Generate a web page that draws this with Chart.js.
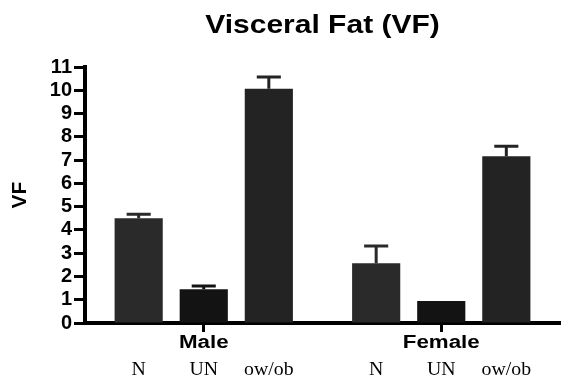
<!DOCTYPE html>
<html>
<head>
<meta charset="utf-8">
<script src="https://cdn.jsdelivr.net/npm/chart.js@4"></script>
<style>
  body { margin: 0; background: #fff; }
</style>
</head>
<body>
<canvas id="myChart" width="575" height="384"></canvas>
<script>
const groups = ["Male", "Female"];
const subLabels = ["N", "UN", "ow/ob"];
const nValues = [4.5, 2.57];
const unValues = [1.45, 0.95];
const owobValues = [10.07, 7.17];
const nErr = [0.17, 0.74];
const unErr = [0.14, 0];
const owobErr = [0.5, 0.43];
const yMax = 11;

// error bars + texts the old graph program stretched sideways
const extras = {
	id: "extras",
	afterDatasetsDraw(chart) {
		const ctx = chart.ctx;
		const y = chart.scales.y;
		chart.data.datasets.forEach((ds, i) => {
			const meta = chart.getDatasetMeta(i);
			meta.data.forEach((bar, j) => {
				const err = ds.errors[j];
				if (!err) return;
				const top = y.getPixelForValue(ds.data[j] + err);
				ctx.save();
				ctx.strokeStyle = ds.backgroundColor;
				ctx.lineWidth = 3;
				ctx.beginPath();
				ctx.moveTo(bar.x, bar.y);
				ctx.lineTo(bar.x, top);
				ctx.moveTo(bar.x - bar.width / 4, top);
				ctx.lineTo(bar.x + bar.width / 4, top);
				ctx.stroke();
				ctx.restore();
			});
		});
	},
	afterDraw(chart) {
		const ctx = chart.ctx;
		const area = chart.chartArea;
		const x = chart.scales.x;
		const txt = (s, cx, cy, font, sx) => {
			ctx.save();
			ctx.font = font;
			ctx.fillStyle = "#000";
			ctx.textAlign = "center";
			ctx.textBaseline = "alphabetic";
			ctx.translate(cx, cy);
			ctx.scale(sx, 1);
			ctx.fillText(s, 0, 0);
			ctx.restore();
		};
		txt("Visceral Fat (VF)", (area.left + area.right) / 2, 33, "bold 25px 'Liberation Sans', Arial", 1.2);
		groups.forEach((g, j) => {
			txt(g, x.getPixelForValue(j), 348, "bold 18px 'Liberation Sans', Arial", 1.24);
		});
		chart.data.datasets.forEach((ds, i) => {
			chart.getDatasetMeta(i).data.forEach((bar) => {
				txt(subLabels[i], bar.x, 375, "18px 'Liberation Serif', 'Times New Roman'", 1.1);
			});
		});
	},
};

const ctx = document.getElementById("myChart").getContext("2d");
new Chart(ctx, {
	type: "bar",
	data: {
		labels: groups,
		datasets: [
			{ label: "N", data: nValues, errors: nErr, backgroundColor: "#2a2a2a" },
			{ label: "UN", data: unValues, errors: unErr, backgroundColor: "#131313" },
			{ label: "ow/ob", data: owobValues, errors: owobErr, backgroundColor: "#232323" },
		],
	},
	options: {
		responsive: false,
		animation: false,
		categoryPercentage: 0.822,
		barPercentage: 0.74,
		layout: { padding: { top: 67, right: 15, left: 0, bottom: 0 } },
		plugins: {
			legend: { display: false },
			title: { display: false },
			tooltip: { enabled: false },
		},
		scales: {
			x: {
				z: 1,
				grid: { drawOnChartArea: false, offset: false, tickLength: 9, tickWidth: 3, tickColor: "#000" },
				border: { width: 4, color: "#000" },
				ticks: { display: false },
				afterFit: (s) => { s.height = 61; },
			},
			y: {
				z: 1,
				min: 0,
				max: yMax,
				grid: { drawOnChartArea: false, tickLength: 11, tickWidth: 3, tickColor: "#000" },
				border: { width: 4, color: "#000" },
				ticks: {
					stepSize: 1,
					autoSkip: false,
					color: "#000",
					padding: 2,
					font: { family: "'Liberation Sans', Arial", size: 20, weight: "bold" },
				},
				title: {
					display: true,
					text: "VF",
					color: "#000",
					padding: { top: 8, bottom: 0 },
					font: { family: "'Liberation Sans', Arial", size: 21, weight: "bold" },
				},
				afterFit: (s) => { s.width = 85; },
			},
		},
	},
	plugins: [extras],
});
</script>
</body>
</html>
